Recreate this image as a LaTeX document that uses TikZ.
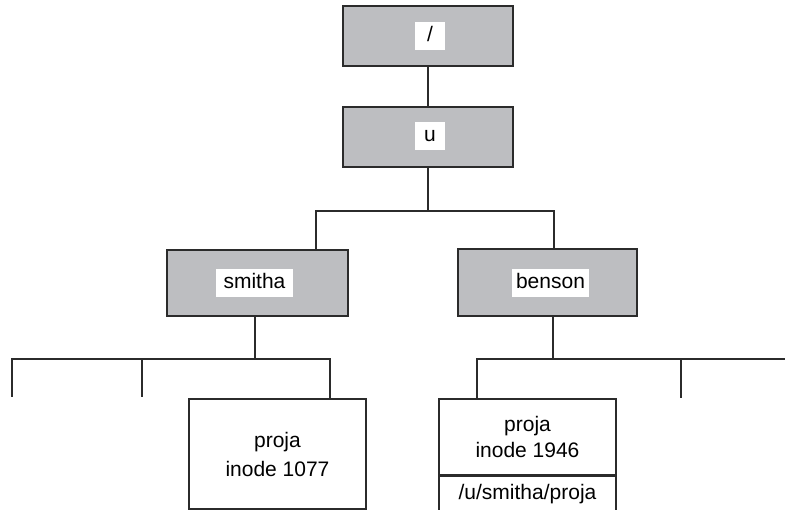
\documentclass[tikz,border=0pt]{standalone}
\usepackage{fontspec}
\setmainfont{Liberation Sans}
\definecolor{boxgray}{HTML}{BDBEC1}
\definecolor{linegray}{HTML}{2B2B2B}
\tikzset{
  dirbox/.style={draw=linegray,fill=boxgray,line width=1.6pt,inner sep=0pt},
  namelab/.style={fill=white,inner sep=0pt,minimum width=30pt,minimum height=28pt,text height=15pt,text depth=4pt},
  filebox/.style={draw=linegray,fill=white,line width=1.6pt,inner sep=0pt,minimum width=177pt,align=center},
  link/.style={linegray,line width=1.6pt}
}
\begin{document}
\begin{tikzpicture}[x=1pt,y=-1pt,font=\fontsize{21}{29}\selectfont]
\useasboundingbox (0,0) rectangle (785,510);

% directory boxes
\node[dirbox,minimum width=170pt,minimum height=60pt] (root) at (428,36) {};
\node[dirbox,minimum width=170pt,minimum height=60pt] (u) at (428,137) {};
\node[dirbox,minimum width=181pt,minimum height=66pt] (smitha) at (257.5,283) {};
\node[dirbox,minimum width=179pt,minimum height=67pt] (benson) at (547.5,282.5) {};

\node[namelab] (rootlab) at (430,36) {/};
\node[namelab] (ulab) at (430,136) {u};
\node[namelab,minimum width=77pt] (smithalab) at (254.5,283) {smitha};
\node[namelab,minimum width=77pt] (bensonlab) at (550.5,283.5) {benson};

% file boxes
\node[filebox,minimum height=110pt] (pja) at (277.5,454) {proja\\inode 1077};
\node[filebox,minimum height=76pt,font=\fontsize{21}{26}\selectfont] (pjb) at (527.5,437) {proja\\inode 1946};
\node[filebox,minimum height=34pt,anchor=north] (pjlink) at (pjb.south) {/u/smitha/proja};

% free ends
\coordinate (ubus) at (430,211);
\coordinate (stubA) at (12,397);
\coordinate (stubB) at (142,397);
\coordinate (lbus) at (142,359);
\coordinate (stubC) at (681,398);
\coordinate (rbus) at (681,359);
\coordinate (edgeR) at (785,359);

% links
\draw[link] (root) -- (u);
\draw[link] (u.south) -- (u.south |- ubus);
\draw[link] ([xshift=58.5pt]smitha.north) |- (ubus) -| ([xshift=6.5pt]benson.north);

\draw[link] ([xshift=-2.5pt]smitha.south) -- ([xshift=-2.5pt]smitha.south |- lbus);
\draw[link] (stubA) |- (lbus) -| ([xshift=52.5pt]pja.north);
\draw[link] (stubB) -- (lbus);

\draw[link] ([xshift=5.5pt]benson.south) -- ([xshift=5.5pt]benson.south |- rbus);
\draw[link] ([xshift=-50.5pt]pjb.north) |- (edgeR);
\draw[link] (stubC) -- (rbus);
\end{tikzpicture}
\end{document}
